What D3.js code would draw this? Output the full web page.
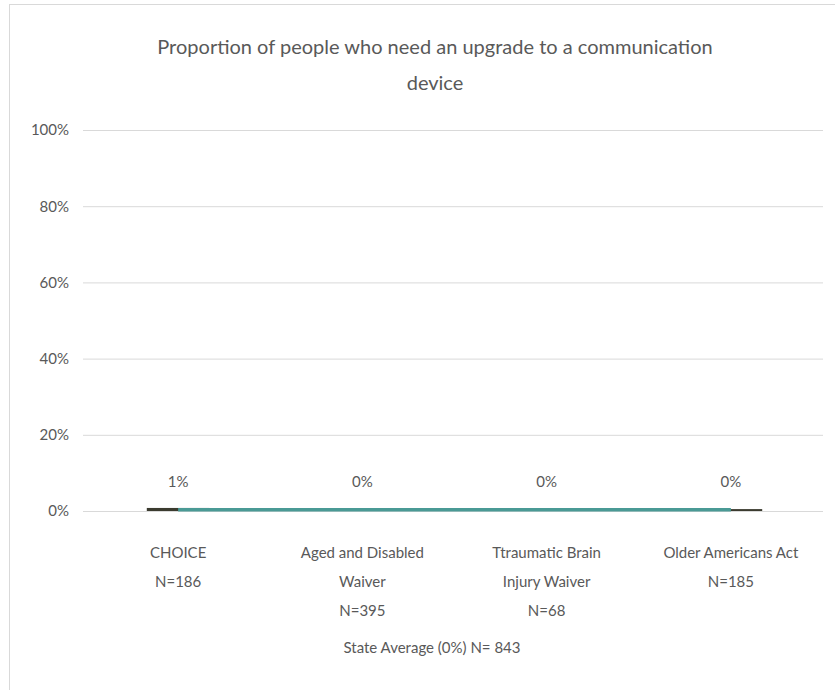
<!DOCTYPE html>
<html><head><meta charset="utf-8">
<script src="https://cdn.jsdelivr.net/npm/d3@7"></script>
<style>body{margin:0;background:#fff}svg{display:block}</style>
</head><body>
<script>
const title = ["Proportion of people who need an upgrade to a communication", "device"];
const categories = ["CHOICE", "Aged and Disabled Waiver", "Ttraumatic Brain Injury Waiver", "Older Americans Act"];
const categoryLines = [["CHOICE", "N=186"], ["Aged and Disabled", "Waiver", "N=395"], ["Ttraumatic Brain", "Injury Waiver", "N=68"], ["Older Americans Act", "N=185"]];
const values = [0.008, 0.0, 0.0, 0.005];
const valueLabels = ["1%", "0%", "0%", "0%"];
const stateAverage = [0.003, 0.003, 0.003, 0.003];
const yTicks = [0, 0.2, 0.4, 0.6, 0.8, 1.0];
const footer = "State Average (0%) N= 843";

const W = 835, H = 690;
const font = "Lato, 'Open Sans', sans-serif";
const svg = d3.select("body").append("svg").attr("width", W).attr("height", H);
svg.append("rect").attr("x", 9.5).attr("y", 4.5).attr("width", 840).attr("height", 700)
  .attr("fill", "#fff").attr("stroke", "#d9d9d9");

const x = d3.scaleBand().domain(categories).range([86, 823]).paddingInner(0.66).paddingOuter(0.33);
const y = d3.scaleLinear().domain([0, 1]).range([511, 130]);

const yAxis = d3.axisLeft(y).tickValues(yTicks).tickFormat(d3.format(".0%")).tickSize(-(823 - 83)).tickPadding(14);
const gy = svg.append("g").attr("transform", "translate(83,0)").call(yAxis);
gy.select(".domain").remove();
gy.selectAll(".tick line").attr("stroke", "#d9d9d9");
gy.selectAll(".tick text").attr("fill", "#595959").style("font-family", font).style("font-size", "15px");

svg.append("g").selectAll("rect").data(categories).join("rect")
  .attr("x", d => x(d)).attr("width", x.bandwidth())
  .attr("y", (d, i) => y(values[i])).attr("height", (d, i) => y(0) - y(values[i]))
  .attr("fill", "#3b3b2f");

const line = d3.line().x((d, i) => x(categories[i]) + x.bandwidth() / 2).y(d => y(d));
svg.append("path").attr("d", line(stateAverage)).attr("fill", "none")
  .attr("stroke", "#4a9a95").attr("stroke-width", 3.5);

svg.append("g").selectAll("text").data(categories).join("text")
  .attr("x", d => x(d) + x.bandwidth() / 2).attr("y", 487)
  .attr("text-anchor", "middle").attr("fill", "#595959")
  .style("font-family", font).style("font-size", "15px")
  .text((d, i) => valueLabels[i]);

const cl = svg.append("g").selectAll("text").data(categories).join("text")
  .attr("text-anchor", "middle").attr("fill", "#595959")
  .style("font-family", font).style("font-size", "15px");
cl.each(function(d, i) {
  d3.select(this).selectAll("tspan").data(categoryLines[i]).join("tspan")
    .attr("x", x(d) + x.bandwidth() / 2).attr("y", (t, j) => 558 + j * 29).text(t => t);
});

svg.append("g").selectAll("text").data(title).join("text")
  .attr("x", 435).attr("y", (d, i) => 54 + i * 36)
  .attr("text-anchor", "middle").attr("fill", "#595959")
  .style("font-family", font).style("font-size", "20px").text(d => d);

svg.append("text").attr("x", 432).attr("y", 653).attr("text-anchor", "middle")
  .attr("fill", "#595959").style("font-family", font).style("font-size", "15px").text(footer);
</script>
</body></html>
